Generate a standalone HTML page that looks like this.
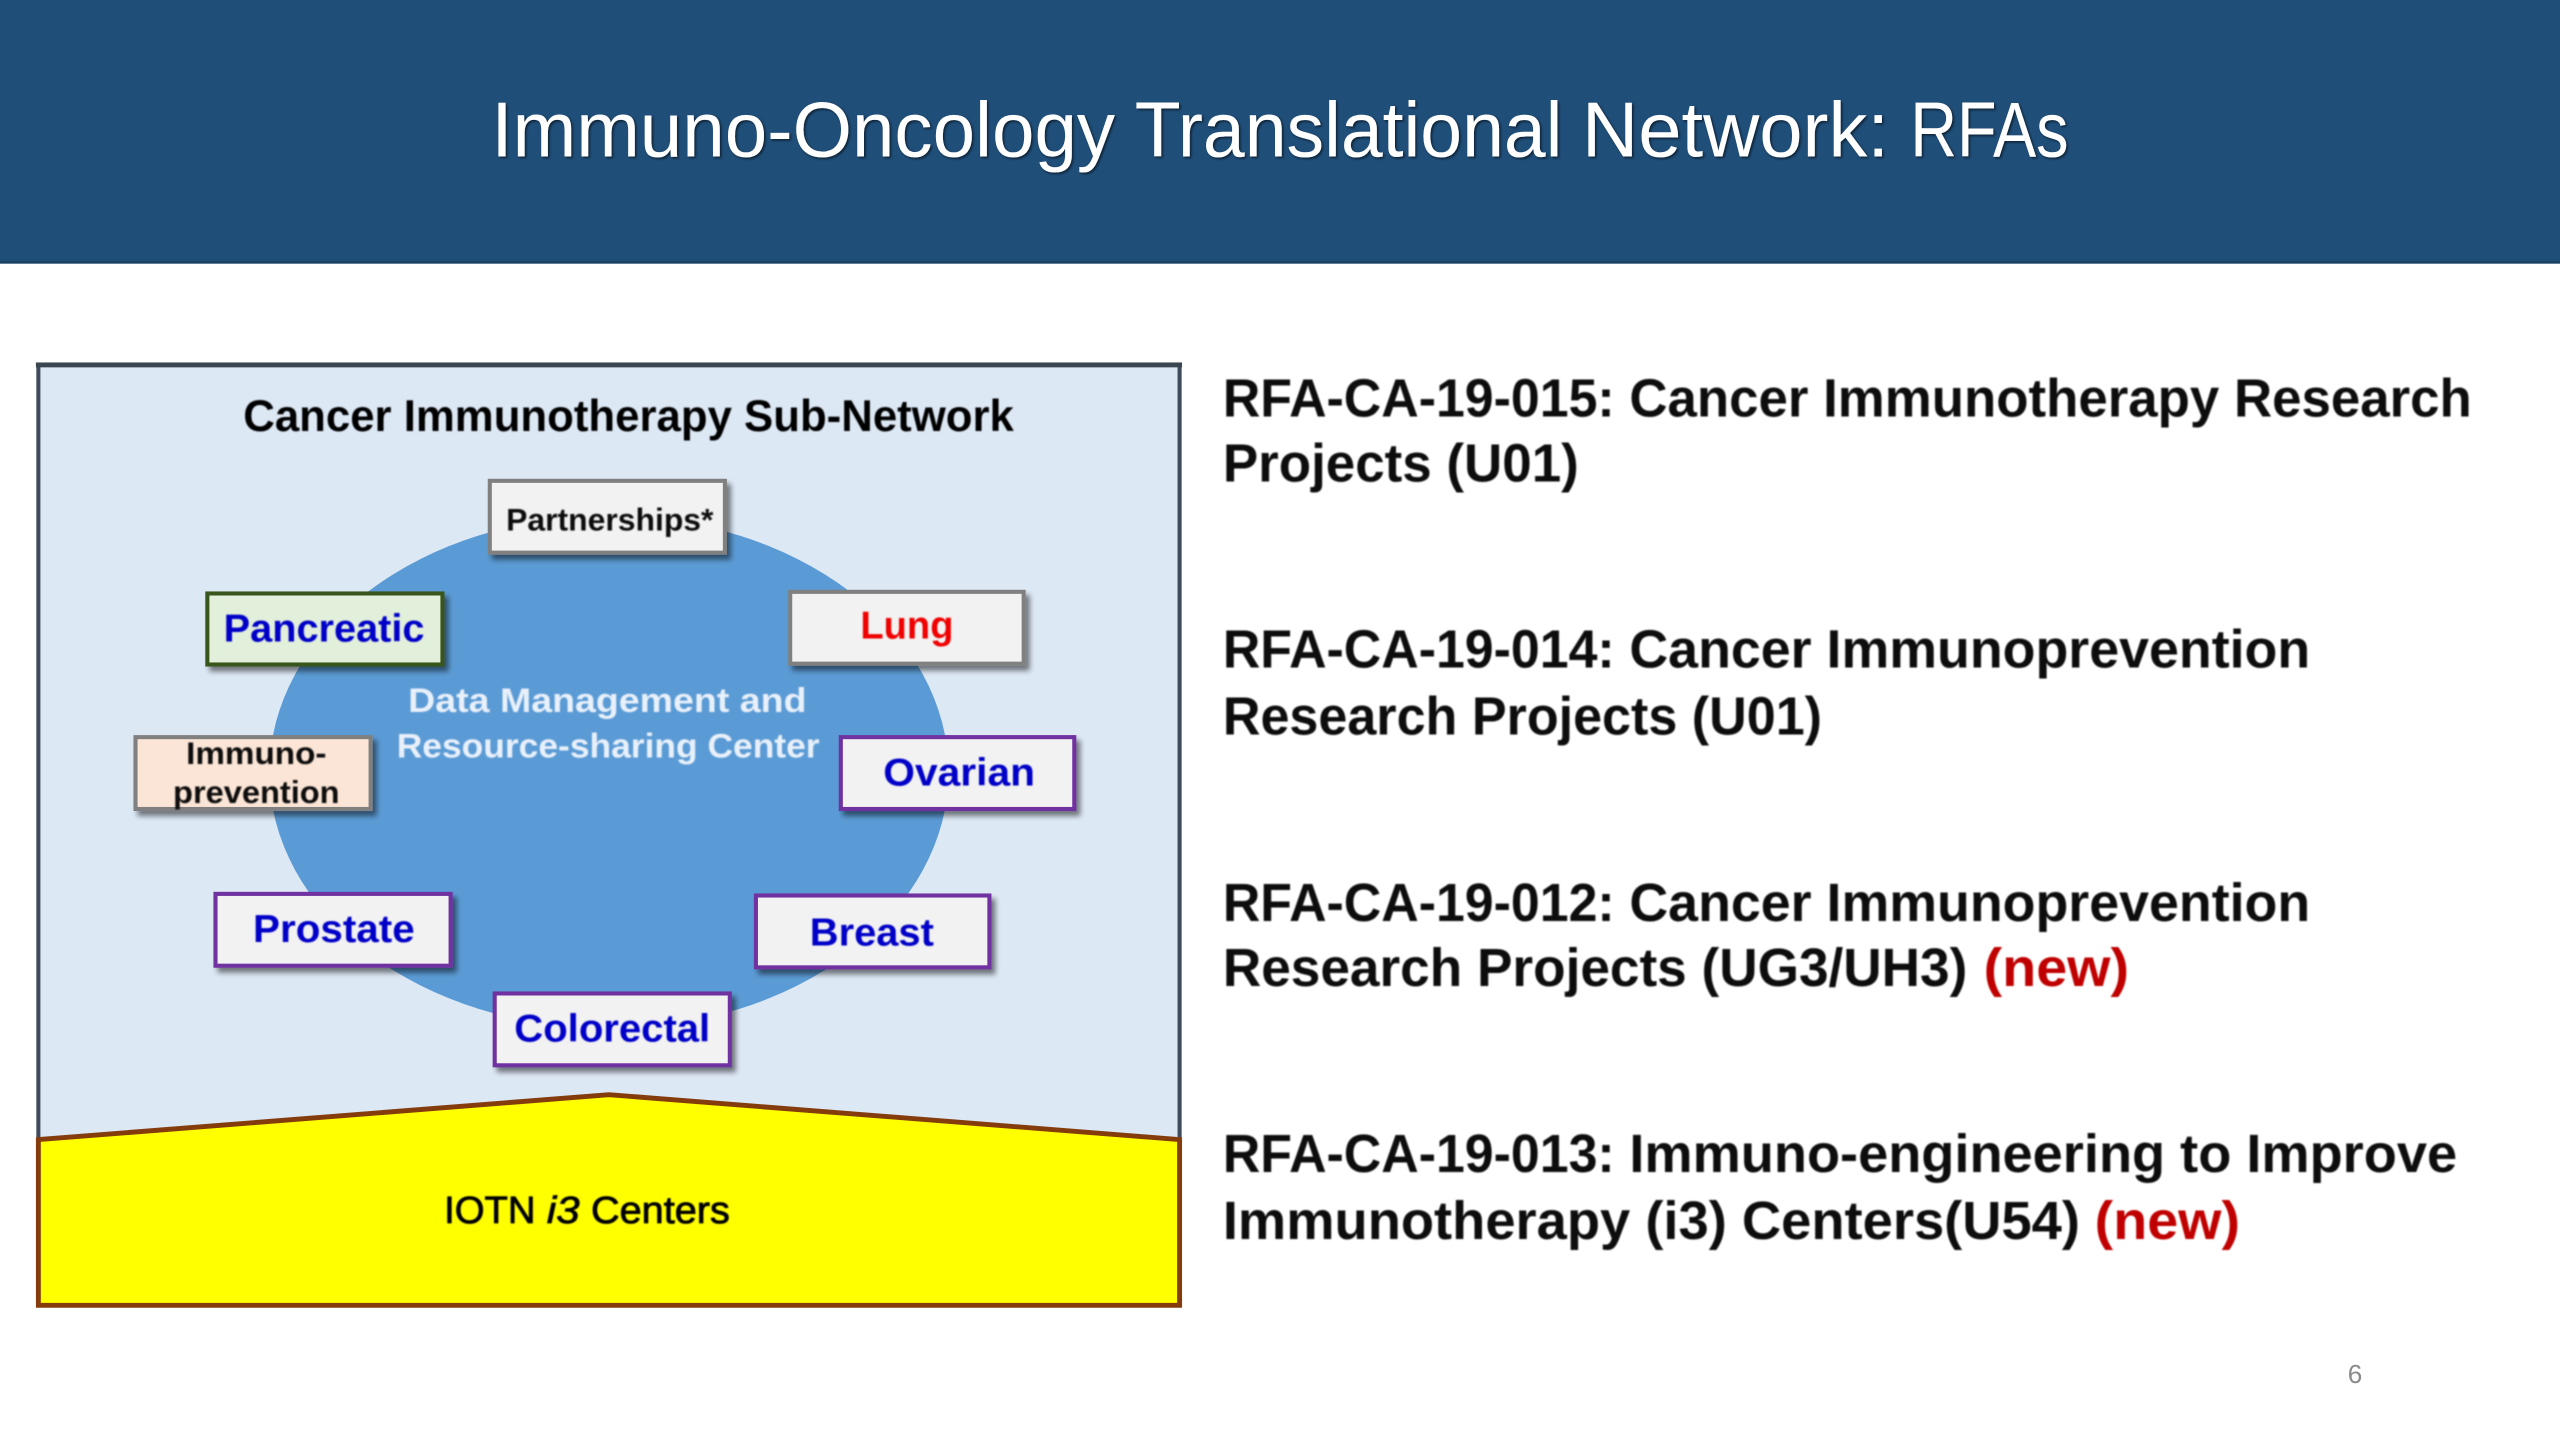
<!DOCTYPE html>
<html><head><meta charset="utf-8"><style>
html,body{margin:0;padding:0;background:#fff;width:2560px;height:1440px;overflow:hidden}
svg{display:block}
text{font-family:"Liberation Sans",sans-serif;}
.r{font-size:33px;font-weight:bold;fill:#0d0d0d}
.n{font-size:33px;font-weight:bold;fill:#c00000}
.b{font-weight:bold;font-size:24px;fill:#0000c8}
</style></head><body>
<svg width="2560" height="1440" viewBox="0 0 1568 882" xmlns="http://www.w3.org/2000/svg">
<defs>
<filter id="s" x="-20%" y="-20%" width="150%" height="150%"><feGaussianBlur in="SourceAlpha" stdDeviation="1.6"/><feOffset dx="2.5" dy="3"/><feComponentTransfer><feFuncA type="linear" slope=".5"/></feComponentTransfer><feMerge><feMergeNode/><feMergeNode in="SourceGraphic"/></feMerge></filter>
<filter id="t" x="-5%" y="-20%" width="110%" height="140%"><feGaussianBlur stdDeviation=".45"/></filter>
<filter id="ts" x="-5%" y="-20%" width="110%" height="140%"><feGaussianBlur in="SourceAlpha" stdDeviation=".8"/><feOffset dx="1" dy="1"/><feComponentTransfer><feFuncA type="linear" slope=".6"/></feComponentTransfer><feMerge><feMergeNode/><feMergeNode in="SourceGraphic"/></feMerge></filter>
</defs>
<rect width="1568" height="161" fill="#1f4e79"/>
<rect y="160" width="1568" height="1.5" fill="#1a3f63"/>
<g font-size="48" fill="#fff" filter="url(#ts)" lengthAdjust="spacingAndGlyphs">
<text x="301" y="96" textLength="382" lengthAdjust="spacingAndGlyphs">Immuno-Oncology</text>
<text x="695" y="96" textLength="262" lengthAdjust="spacingAndGlyphs">Translational</text>
<text x="969" y="96" textLength="188" lengthAdjust="spacingAndGlyphs">Network:</text>
<text x="1170" y="96" textLength="97" lengthAdjust="spacingAndGlyphs">RFAs</text>
</g>

<rect x="23.5" y="223.5" width="699" height="576" fill="#dde8f5" stroke="#3f4b5a" stroke-width="2.5"/>
<rect x="22" y="222" width="702" height="3" fill="#3c4650"/>
<ellipse cx="373" cy="473" rx="208" ry="157" fill="#5b9bd5"/>
<polygon points="23.5,698 373,670.5 722.5,698 722.5,799.5 23.5,799.5" fill="#ffff00" stroke="#843c0c" stroke-width="3"/>

<g stroke-width="2.5" filter="url(#s)">
<rect x="300" y="294.5" width="144" height="44" fill="#f2f2f2" stroke="#808080"/>
<rect x="127" y="363.5" width="144" height="43.5" fill="#e2efda" stroke="#38571f"/>
<rect x="484" y="362.5" width="143" height="44" fill="#f2f2f2" stroke="#808080"/>
<rect x="83" y="451.5" width="144" height="44" fill="#fbe5d6" stroke="#808080"/>
<rect x="515" y="451.5" width="143" height="44" fill="#f2f2f2" stroke="#7030a0"/>
<rect x="132" y="547.5" width="144" height="44" fill="#f2f2f2" stroke="#7030a0"/>
<rect x="463" y="548.5" width="143" height="44" fill="#f2f2f2" stroke="#7030a0"/>
<rect x="303" y="608.5" width="144" height="44" fill="#f2f2f2" stroke="#7030a0"/>
</g>

<g filter="url(#t)">
<text x="149" y="264" textLength="472" lengthAdjust="spacingAndGlyphs" font-size="27" font-weight="bold" fill="#000">Cancer Immunotherapy Sub-Network</text>
<text x="310" y="325" textLength="127" lengthAdjust="spacingAndGlyphs" font-size="19" font-weight="bold" fill="#111">Partnerships*</text>
<text class="b" x="137" y="393" textLength="123" lengthAdjust="spacingAndGlyphs">Pancreatic</text>
<text class="b" x="527" y="391" textLength="57" lengthAdjust="spacingAndGlyphs" style="fill:#f00000">Lung</text>
<text x="114" y="468" textLength="86" lengthAdjust="spacingAndGlyphs" font-size="19" font-weight="bold" fill="#111">Immuno-</text>
<text x="106" y="492" textLength="102" lengthAdjust="spacingAndGlyphs" font-size="19" font-weight="bold" fill="#111">prevention</text>
<text class="b" x="541" y="481" textLength="93" lengthAdjust="spacingAndGlyphs">Ovarian</text>
<text class="b" x="155" y="577" textLength="99" lengthAdjust="spacingAndGlyphs">Prostate</text>
<text class="b" x="496" y="579" textLength="76" lengthAdjust="spacingAndGlyphs">Breast</text>
<text class="b" x="315" y="638" textLength="120" lengthAdjust="spacingAndGlyphs">Colorectal</text>
<text x="250" y="436" textLength="244" lengthAdjust="spacingAndGlyphs" font-size="21" font-weight="bold" fill="#e8f0fa">Data Management and</text>
<text x="243" y="464" textLength="259" lengthAdjust="spacingAndGlyphs" font-size="21" font-weight="bold" fill="#e8f0fa">Resource-sharing Center</text>
<text x="272" y="749" textLength="56" lengthAdjust="spacingAndGlyphs" font-size="23" fill="#000" stroke="#000" stroke-width=".5">IOTN</text>
<text x="335" y="749" textLength="20" lengthAdjust="spacingAndGlyphs" font-size="23" font-style="italic" fill="#000" stroke="#000" stroke-width=".5">i3</text>
<text x="362" y="749" textLength="85" lengthAdjust="spacingAndGlyphs" font-size="23" fill="#000" stroke="#000" stroke-width=".5">Centers</text>
</g>

<g filter="url(#t)">
<text class="r" x="749" y="255" textLength="240" lengthAdjust="spacingAndGlyphs">RFA-CA-19-015:</text>
<text class="r" x="998" y="255" textLength="516" lengthAdjust="spacingAndGlyphs">Cancer Immunotherapy Research</text>
<text class="r" x="749" y="295" textLength="218" lengthAdjust="spacingAndGlyphs">Projects (U01)</text>
<text class="r" x="749" y="409" textLength="240" lengthAdjust="spacingAndGlyphs">RFA-CA-19-014:</text>
<text class="r" x="998" y="409" textLength="417" lengthAdjust="spacingAndGlyphs">Cancer Immunoprevention</text>
<text class="r" x="749" y="450" textLength="367" lengthAdjust="spacingAndGlyphs">Research Projects (U01)</text>
<text class="r" x="749" y="564" textLength="240" lengthAdjust="spacingAndGlyphs">RFA-CA-19-012:</text>
<text class="r" x="998" y="564" textLength="417" lengthAdjust="spacingAndGlyphs">Cancer Immunoprevention</text>
<text class="r" x="749" y="604" textLength="456" lengthAdjust="spacingAndGlyphs">Research Projects (UG3/UH3)</text>
<text class="n" x="1215" y="604" textLength="89" lengthAdjust="spacingAndGlyphs">(new)</text>
<text class="r" x="749" y="718" textLength="240" lengthAdjust="spacingAndGlyphs">RFA-CA-19-013:</text>
<text class="r" x="998" y="718" textLength="507" lengthAdjust="spacingAndGlyphs">Immuno-engineering to Improve</text>
<text class="r" x="749" y="759" textLength="525" lengthAdjust="spacingAndGlyphs">Immunotherapy (i3) Centers(U54)</text>
<text class="n" x="1283" y="759" textLength="89" lengthAdjust="spacingAndGlyphs">(new)</text>
</g>
<text x="1438" y="847" font-size="16" fill="#8a8a8a">6</text>
</svg>
</body></html>
